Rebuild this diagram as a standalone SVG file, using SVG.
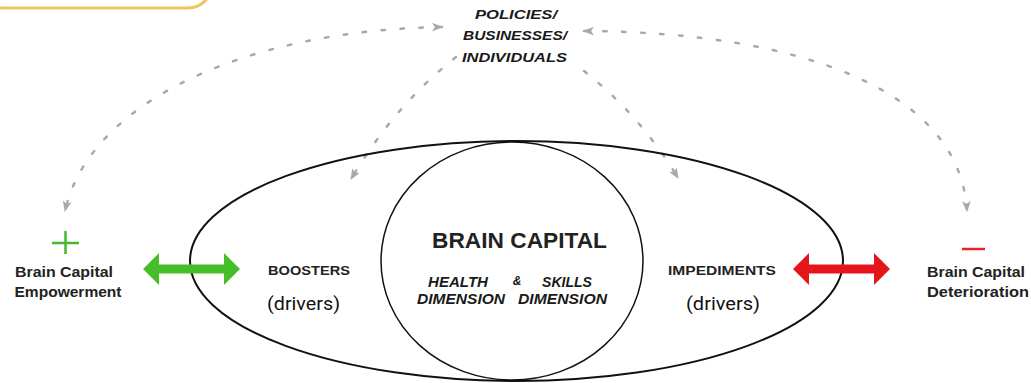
<svg xmlns="http://www.w3.org/2000/svg" width="1031" height="383" viewBox="0 0 1031 383">
<defs>
<style>
.dot{fill:none;stroke:#a9a9a9;stroke-width:2.5;stroke-dasharray:3.5 15.5;stroke-linecap:round}
.hd{font-family:"Liberation Sans",Arial,sans-serif;font-weight:bold;fill:#222}
.it{font-family:"Liberation Sans",Arial,sans-serif;font-weight:bold;font-style:italic;fill:#1a1a1a}
.drv{font-family:Roboto,"Liberation Sans",sans-serif;font-size:19px;fill:#111}
.shape{fill:none;stroke:#111}
</style>
<marker id="ah" viewBox="0 0 10 8" refX="9" refY="4" markerWidth="11" markerHeight="9" markerUnits="userSpaceOnUse" orient="auto-start-reverse">
<path d="M0,0 L10,4 L0,8 L2.5,4 z" fill="#a8a8a8"/>
</marker>
</defs>
<rect width="1031" height="383" fill="#fff"/>
<rect x="-20" y="-60" width="232" height="68" rx="24" fill="none" stroke="#EEC660" stroke-width="3"/>

<g id="connectors">
<path class="dot" d="M442 27 C250 30 90 100 65 211" marker-start="url(#ah)" marker-end="url(#ah)"/>
<path class="dot" d="M584 31 C800 32 960 90 967 211" marker-start="url(#ah)" marker-end="url(#ah)"/>
<path class="dot" d="M456 57 Q395 105 351 179" marker-end="url(#ah)"/>
<path class="dot" d="M584 71 Q640 115 678 178" marker-end="url(#ah)"/>
</g>

<g id="outer-ellipse">
<ellipse class="shape" cx="516.5" cy="261" rx="326.5" ry="120" stroke-width="2"/>
</g>

<g id="brain-capital">
<ellipse class="shape" cx="512" cy="261" rx="131" ry="119" stroke-width="1.5"/>
<text class="hd" x="519.5" y="248" font-size="22" text-anchor="middle" textLength="175" lengthAdjust="spacingAndGlyphs">BRAIN CAPITAL</text>
<text class="it" x="458" y="287" font-size="14" text-anchor="middle" textLength="60" lengthAdjust="spacingAndGlyphs">HEALTH</text>
<text class="it" x="517" y="285" font-size="12" text-anchor="middle">&amp;</text>
<text class="it" x="567" y="287" font-size="14" text-anchor="middle" textLength="50" lengthAdjust="spacingAndGlyphs">SKILLS</text>
<text class="it" x="461" y="304" font-size="14" text-anchor="middle" textLength="88" lengthAdjust="spacingAndGlyphs">DIMENSION</text>
<text class="it" x="562.5" y="304" font-size="14" text-anchor="middle" textLength="89" lengthAdjust="spacingAndGlyphs">DIMENSION</text>
</g>

<g id="policies">
<text class="it" x="516" y="19" font-size="13.5" text-anchor="middle" textLength="82" lengthAdjust="spacingAndGlyphs">POLICIES/</text>
<text class="it" x="515" y="40" font-size="13.5" text-anchor="middle" textLength="104" lengthAdjust="spacingAndGlyphs">BUSINESSES/</text>
<text class="it" x="514.5" y="62" font-size="13.5" text-anchor="middle" textLength="105" lengthAdjust="spacingAndGlyphs">INDIVIDUALS</text>
</g>

<g id="boosters">
<text class="hd" x="268" y="275" font-size="13.5" textLength="82" lengthAdjust="spacingAndGlyphs">BOOSTERS</text>
<text class="drv" x="267" y="310" textLength="73" lengthAdjust="spacingAndGlyphs">(drivers)</text>
</g>

<g id="impediments">
<text class="hd" x="668" y="275" font-size="13.5" textLength="108" lengthAdjust="spacingAndGlyphs">IMPEDIMENTS</text>
<text class="drv" x="686" y="310" textLength="74" lengthAdjust="spacingAndGlyphs">(drivers)</text>
</g>

<g id="empowerment">
<path d="M52 243 H79 M65.5 231 V254" stroke="#46B82C" stroke-width="2.5" fill="none"/>
<text class="hd" x="64" y="277" font-size="14.5" text-anchor="middle" textLength="98" lengthAdjust="spacingAndGlyphs">Brain Capital</text>
<text class="hd" x="68" y="297" font-size="14.5" text-anchor="middle" textLength="107" lengthAdjust="spacingAndGlyphs">Empowerment</text>
</g>

<g id="deterioration">
<path d="M962 249 H985" stroke="#E8242A" stroke-width="2.5" fill="none"/>
<text class="hd" x="976" y="277" font-size="14.5" text-anchor="middle" textLength="98" lengthAdjust="spacingAndGlyphs">Brain Capital</text>
<text class="hd" x="978" y="297" font-size="14.5" text-anchor="middle" textLength="102" lengthAdjust="spacingAndGlyphs">Deterioration</text>
</g>

<g id="green-arrow">
<path d="M143 269 L159 253 V264.5 H224 V253 L240 269 L224 285 V273.5 H159 V285 Z" fill="#46BE2A"/>
</g>
<g id="red-arrow">
<path d="M793 269 L809 253 V264.5 H874 V253 L890 269 L874 285 V273.5 H809 V285 Z" fill="#E5161A"/>
</g>
</svg>
